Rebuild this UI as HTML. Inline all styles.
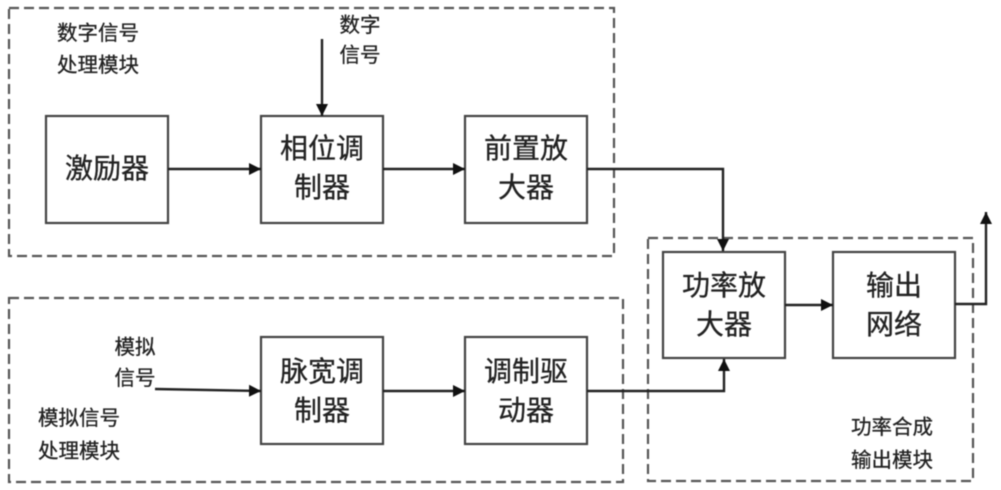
<!DOCTYPE html>
<html>
<head>
<meta charset="utf-8">
<style>
html,body{margin:0;padding:0;background:#fff;width:1001px;height:490px;overflow:hidden}
svg{display:block;filter:blur(0.6px)}
text{font-family:"Liberation Sans","Noto Sans CJK SC",sans-serif;fill:#222;stroke:#222;stroke-width:0.3px}
.b{font-size:28px;text-anchor:middle}
.s{font-size:20.5px;text-anchor:middle}
</style>
</head>
<body>
<svg width="1001" height="490" viewBox="0 0 1001 490" xmlns="http://www.w3.org/2000/svg">
<defs>
<marker id="a" markerUnits="userSpaceOnUse" markerWidth="14" markerHeight="14" refX="12" refY="7" orient="auto">
<path d="M0 1L12 7L0 13z" fill="#111"/>
</marker>
</defs>
<g fill="none" stroke="#555" stroke-width="2.2" stroke-dasharray="10 5">
<rect x="9" y="8" width="605" height="248"/>
<rect x="9" y="298" width="614" height="184"/>
<rect x="648" y="238" width="325" height="243"/>
</g>
<g fill="#fff" stroke="#444" stroke-width="2.2">
<rect x="46" y="116" width="122" height="107"/>
<rect x="261" y="116" width="122" height="107"/>
<rect x="465" y="116" width="122" height="107"/>
<rect x="261" y="337" width="122" height="107"/>
<rect x="465" y="337" width="122" height="107"/>
<rect x="663" y="252" width="122" height="106"/>
<rect x="833" y="252" width="122" height="106"/>
</g>
<g fill="none" stroke="#222" stroke-width="2.4" marker-end="url(#a)">
<path d="M168 169H261"/>
<path d="M383 169H465"/>
<path d="M322 39V116"/>
<path d="M587 169H723V251"/>
<path d="M155 389L261 391"/>
<path d="M383 391H465"/>
<path d="M587 391H724V359"/>
<path d="M785 305H833"/>
<path d="M955 304H986V212"/>
</g>
<text class="b" x="107" y="178">激励器</text>
<text class="b" x="322" y="158">相位调</text>
<text class="b" x="322" y="197">制器</text>
<text class="b" x="526" y="158">前置放</text>
<text class="b" x="526" y="197">大器</text>
<text class="b" x="322" y="381">脉宽调</text>
<text class="b" x="322" y="420">制器</text>
<text class="b" x="526" y="381">调制驱</text>
<text class="b" x="526" y="420">动器</text>
<text class="b" x="724" y="295">功率放</text>
<text class="b" x="724" y="334">大器</text>
<text class="b" x="894" y="295">输出</text>
<text class="b" x="894" y="334">网络</text>
<text class="s" x="98" y="40">数字信号</text>
<text class="s" x="98" y="72">处理模块</text>
<text class="s" x="360" y="32">数字</text>
<text class="s" x="360" y="62">信号</text>
<text class="s" x="135" y="354">模拟</text>
<text class="s" x="135" y="385">信号</text>
<text class="s" x="79" y="425">模拟信号</text>
<text class="s" x="79" y="458">处理模块</text>
<text class="s" x="892" y="434">功率合成</text>
<text class="s" x="892" y="467">输出模块</text>
</svg>
</body>
</html>
